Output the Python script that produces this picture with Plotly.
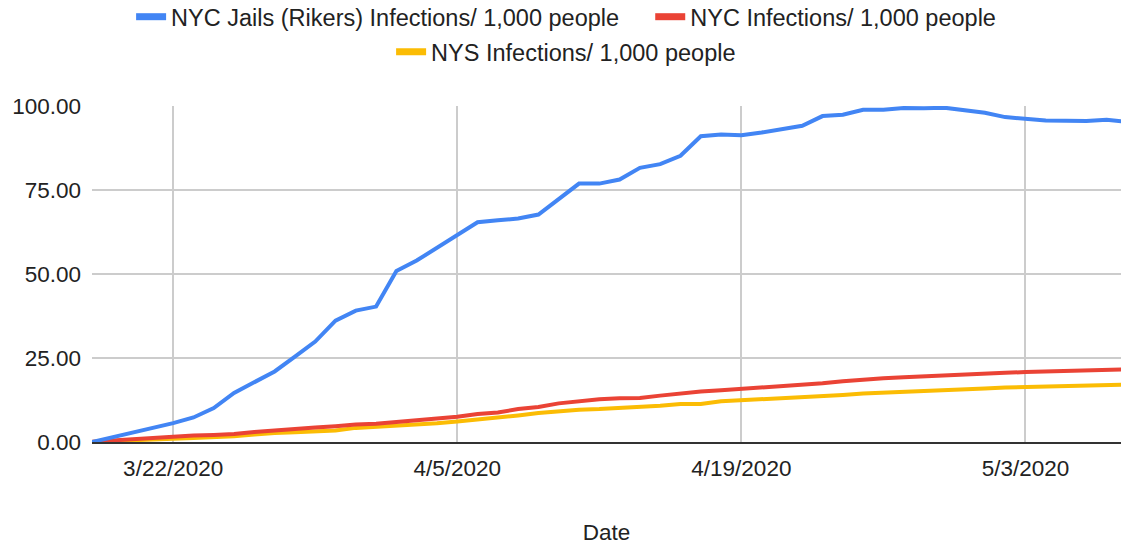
import pandas as pd
import plotly.graph_objects as go

dates = pd.date_range("2020-03-18", "2020-05-08", freq="D")

rikers = [0.0, 1.4, 2.6, 3.9, 5.6, 7.3, 10.1, 14.6, 17.7, 21.0, 25.4, 29.9, 36.1, 39.1,
          40.3, 50.9, 54.0, 57.8, 61.6, 65.4, 66.0, 66.5, 67.7, 72.4, 76.9, 76.9, 78.1, 81.6,
          82.7, 85.2, 91.0, 91.5, 91.3, 92.1, 93.1, 94.1, 97.0, 97.4, 98.9, 98.9, 99.4, 99.3,
          99.5, 98.7,
          98.0, 96.7, 96.1, 95.7, 95.6, 95.5, 95.9, 95.3]

nyc = [0.1, 0.5, 0.9, 1.3, 1.7, 1.9, 2.1, 2.4, 3.0, 3.5, 3.9, 4.3, 4.7, 5.2,
       5.4, 5.9, 6.5, 7.0, 7.5, 8.3, 8.8, 9.8, 10.4, 11.5, 12.1, 12.7, 13.0, 13.1,
       13.8, 14.5, 15.0, 15.4, 15.8, 16.2, 16.5, 16.9, 17.5, 18.1, 18.6, 19.0, 19.3, 19.6,
       19.9, 20.2,
       20.5, 20.6, 20.8, 20.9, 21.0, 21.2, 21.4, 21.6]

nys = [0.0, 0.3, 0.5, 0.8, 1.0, 1.2, 1.4, 1.7, 2.2, 2.7, 2.9, 3.1, 3.4, 4.2,
       4.5, 4.8, 5.2, 5.6, 6.1, 6.6, 7.1, 7.9, 8.6, 9.1, 9.6, 9.8, 10.1, 10.4,
       10.8, 11.3, 11.3, 12.1, 12.4, 12.6, 13.0, 13.2, 13.5, 14.0, 14.4, 14.6, 14.9, 15.1,
       15.4, 15.7,
       15.9, 16.2, 16.4, 16.5, 16.6, 16.7, 17.0, 17.1]

series_names = ["NYC Jails (Rikers) Infections/ 1,000 people",
                "NYC Infections/ 1,000 people",
                "NYS Infections/ 1,000 people"]
colors = ["#4285F4", "#EA4335", "#FBBC04"]

FONT = "Liberation Sans, Arial, sans-serif"
TXT = "#222222"
NBSP = "\u00a0"

fig = go.Figure()
# data lines
for vals, name, col in [(nys, series_names[2], colors[2]),
                        (nyc, series_names[1], colors[1]),
                        (rikers, series_names[0], colors[0])]:
    fig.add_trace(go.Scatter(x=dates, y=vals, name=name, mode="lines",
                             line=dict(color=col, width=4), showlegend=False))

# legend entries (thicker swatches)
fig.add_trace(go.Scatter(x=[None], y=[None], name=series_names[0] + NBSP * 4, mode="lines",
                         line=dict(color=colors[0], width=7), legend="legend"))
fig.add_trace(go.Scatter(x=[None], y=[None], name=series_names[1], mode="lines",
                         line=dict(color=colors[1], width=7), legend="legend"))
fig.add_trace(go.Scatter(x=[None], y=[None], name=series_names[2], mode="lines",
                         line=dict(color=colors[2], width=7), legend="legend2"))

fig.update_layout(
    width=1121, height=546,
    margin=dict(l=92, r=0, t=106, b=104),
    paper_bgcolor="white", plot_bgcolor="white",
    font=dict(family=FONT, size=22, color=TXT),
    legend=dict(orientation="h", xref="container", yref="container",
                x=0.505, xanchor="center", y=0.969, yanchor="middle",
                font=dict(size=23.5, color=TXT),
                itemwidth=30, bgcolor="rgba(0,0,0,0)"),
    legend2=dict(orientation="h", xref="container", yref="container",
                 x=0.505, xanchor="center", y=0.905, yanchor="middle",
                 font=dict(size=23.5, color=TXT),
                 itemwidth=30, bgcolor="rgba(0,0,0,0)"),
    showlegend=True,
)

fig.update_xaxes(
    range=["2020-03-18", "2020-05-07 17:00"],
    tick0="2020-03-22", dtick=14 * 86400000,
    tickformat="%-m/%-d/%Y",
    showgrid=True, gridcolor="#cccccc", gridwidth=1.5,
    showline=True, linecolor="#333333", linewidth=2,
    ticks="", ticklabelstandoff=5,
    tickfont=dict(size=22.5, color=TXT),
    title=dict(text="Date", font=dict(size=22.5, color=TXT), standoff=44),
    zeroline=False,
)
fig.update_yaxes(
    range=[0, 100], tickvals=[0, 25, 50, 75, 100], tickformat=".2f",
    showgrid=True, gridcolor="#cccccc", gridwidth=1.5,
    zeroline=False, showline=False, ticks="",
    ticklabelstandoff=10,
    tickfont=dict(size=22.5, color=TXT),
)

fig.write_html("out.html", config={"displayModeBar": False},
               post_script="document.body.style.margin='0';")
